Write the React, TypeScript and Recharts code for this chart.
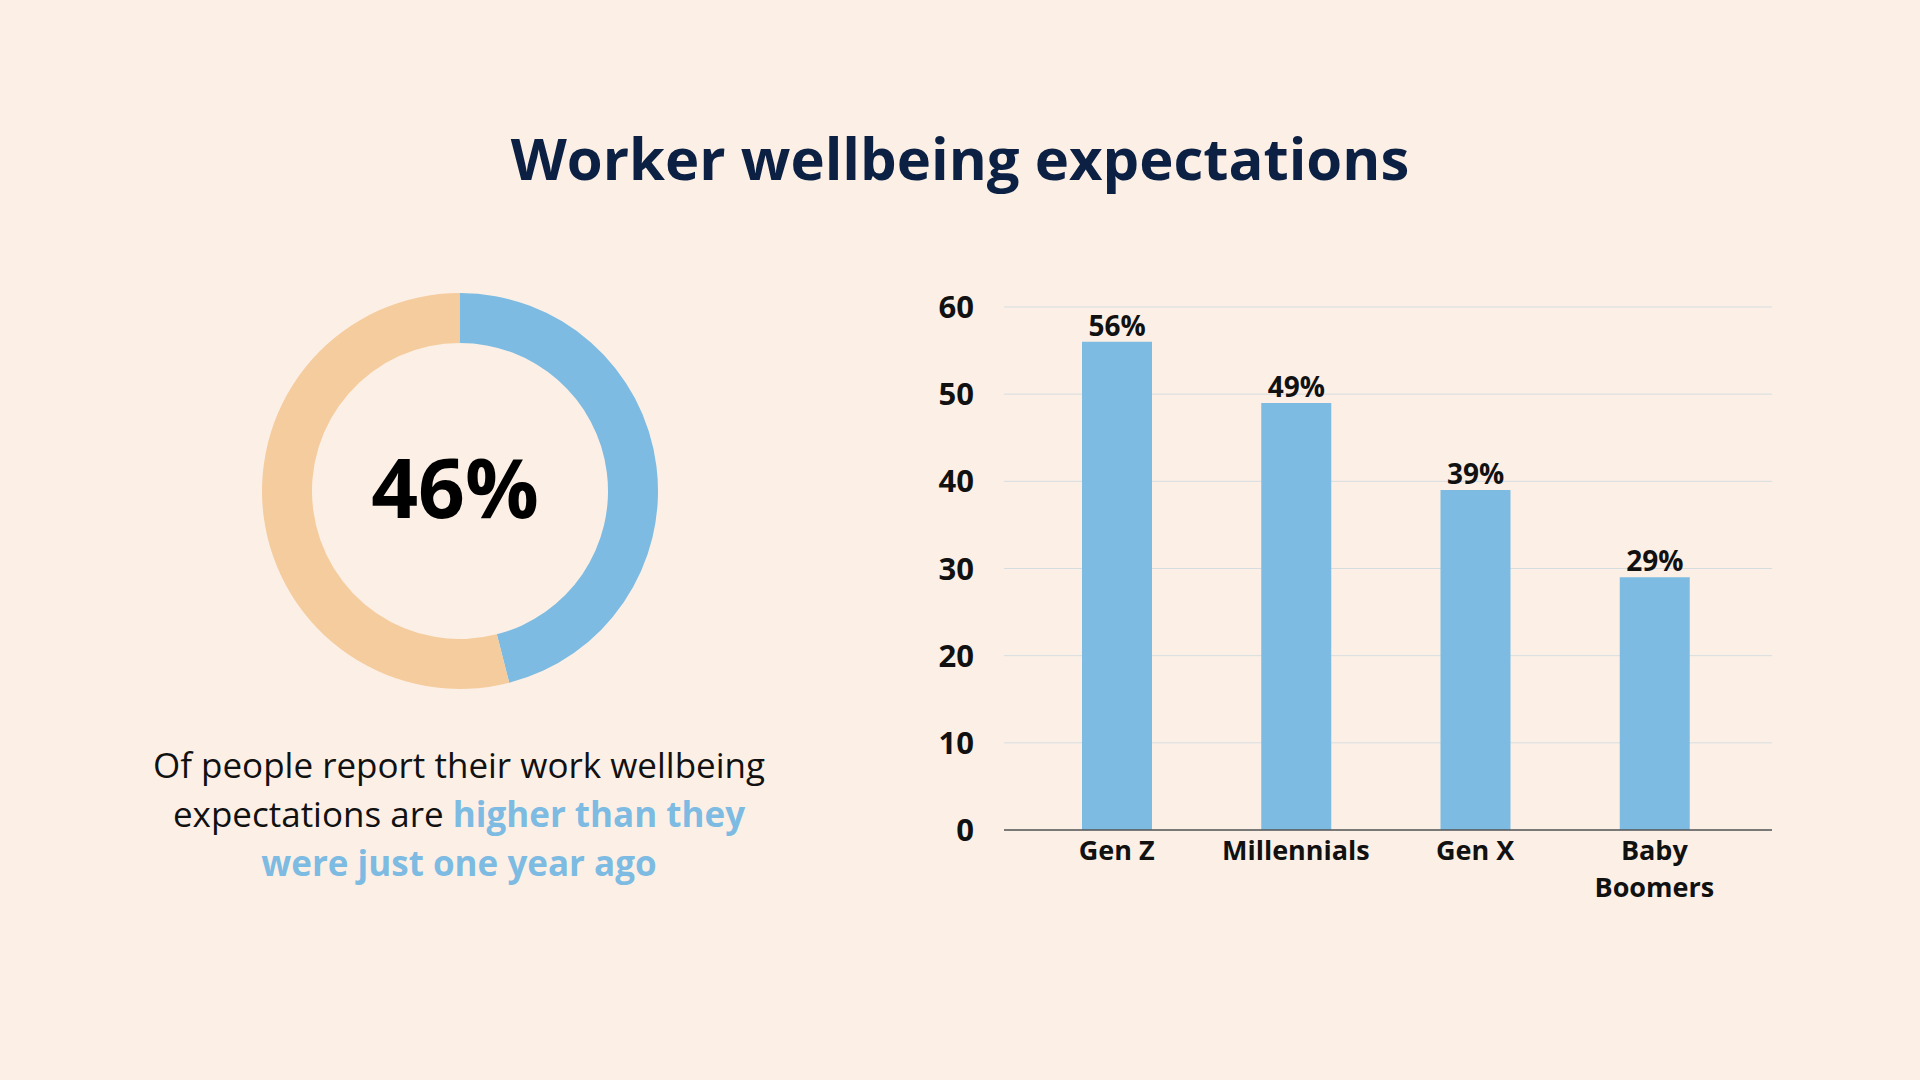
import React from "react";
import { PieChart, Pie, Cell, BarChart, Bar, XAxis, YAxis, CartesianGrid, LabelList } from "recharts";

const donutNames = ["Higher", "Other"];
const donutValues = [46, 54];
const categories = ["Gen Z", "Millennials", "Gen X", "Baby Boomers"];
const barValues = [56, 49, 39, 29];
const yTicks = [0, 10, 20, 30, 40, 50, 60];

const BLUE = "#7dbbe2";
const PEACH = "#f5cc9e";
const BG = "#fcf0e6";
const FONT = "'Open Sans', 'Noto Sans', sans-serif";

const donutData = donutNames.map((n, i) => ({ name: n, value: donutValues[i] }));
const barData = categories.map((c, i) => ({ name: c, value: barValues[i] }));

const XTick = (props: any) => {
  const { x, y, payload } = props;
  const words = payload.value === "Baby Boomers" ? ["Baby", "Boomers"] : [payload.value];
  return (
    <text x={x} y={y} textAnchor="middle" fill="#111" fontSize={27} fontWeight={700} fontFamily={FONT}>
      {words.map((w: string, i: number) => (
        <tspan key={i} x={x} dy={i === 0 ? 22 : 37}>{w}</tspan>
      ))}
    </text>
  );
};

export default function App() {
  return (
    <div style={{ position: "absolute", left: 0, top: 0, width: 1920, height: 1080, background: BG, fontFamily: FONT, overflow: "hidden" }}>
      <div style={{ position: "absolute", top: 118, width: 1920, textAlign: "center", fontSize: 58, fontWeight: 700, color: "#0b2042" }}>
        Worker wellbeing expectations
      </div>
      <div style={{ position: "absolute", left: 235, top: 266 }}>
        <PieChart width={440} height={440}>
          <Pie data={donutData} dataKey="value" cx={220} cy={220} innerRadius={148} outerRadius={198}
            startAngle={90} endAngle={-270} stroke="none" isAnimationActive={false}>
            <Cell fill={BLUE} />
            <Cell fill={PEACH} />
          </Pie>
          <text x={220} y={220} textAnchor="middle" dominantBaseline="central" fontSize={82} fontWeight={700} fill="#000" fontFamily={FONT}>46%</text>
        </PieChart>
      </div>
      <div style={{ position: "absolute", left: 59, width: 800, top: 740, textAlign: "center", fontSize: 35, lineHeight: "49px", color: "#111" }}>
        Of people report their work wellbeing<br />
        expectations are <b style={{ color: BLUE }}>higher than they</b><br />
        <b style={{ color: BLUE }}>were just one year ago</b>
      </div>
      <div style={{ position: "absolute", left: 900, top: 280 }}>
        <BarChart width={880} height={660} data={barData} margin={{ top: 27, right: 8, left: 0, bottom: 80 }}>
          <CartesianGrid vertical={false} stroke="#d5dde0" />
          <XAxis dataKey="name" tick={<XTick />} tickLine={false} axisLine={{ stroke: "#555", strokeWidth: 1.5 }} interval={0} padding={{ left: 23, right: 28 }} />
          <YAxis width={104} domain={[0, 60]} ticks={yTicks} axisLine={false} tickLine={false} tickMargin={24}
            tick={{ fontSize: 31, fontWeight: 700, fill: "#111", fontFamily: FONT }} />
          <Bar dataKey="value" fill={BLUE} barSize={70} isAnimationActive={false}>
            <LabelList dataKey="value" position="top" formatter={(v: any) => `${v}%`} offset={6}
              style={{ fontSize: 28, fontWeight: 700, fill: "#111", fontFamily: FONT }} />
          </Bar>
        </BarChart>
      </div>
    </div>
  );
}
